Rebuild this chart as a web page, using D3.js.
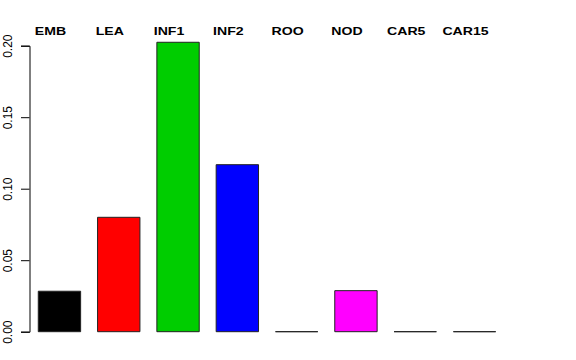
<!DOCTYPE html>
<html>
<head>
<meta charset="utf-8">
<script src="https://cdn.jsdelivr.net/npm/d3@7"></script>
<style>
  body { margin: 0; background: #fff; }
  text { font-family: "Liberation Sans", Arial, sans-serif; }
</style>
</head>
<body>
<svg></svg>
<script>
var width = 576;
var height = 360;

// data
var categories = ["EMB", "LEA", "INF1", "INF2", "ROO", "NOD", "CAR5", "CAR15"];
var values = [0.0283, 0.0800, 0.2024, 0.1168, 0, 0.0287, 0, 0];
var colors = ["#000000", "#ff0000", "#00cd00", "#0000ff", "#00ffff", "#ff00ff", "#ffff00", "#bebebe"];
var yTicks = [0, 0.05, 0.10, 0.15, 0.20];

var svg = d3.select("svg")
    .attr("width", width)
    .attr("height", height);

// R barplot with space = 0.4
var x = d3.scaleBand()
    .domain(categories)
    .range([29.8, 504.2])
    .paddingInner(0.2857)
    .paddingOuter(0.1429);

var y = d3.scaleLinear()
    .domain([0, 0.2])
    .range([331.7, 45.7]);

// bars as closed paths, so zero-height bars still show their outline
svg.append("g").selectAll("path")
    .data(categories)
    .enter().append("path")
    .attr("d", function(d, i) {
      var x0 = x(d), x1 = x(d) + x.bandwidth();
      var y0 = y(0), y1 = y(values[i]);
      return "M" + x0 + "," + y0 + "V" + y1 + "H" + x1 + "V" + y0 + "Z";
    })
    .attr("fill", function(d, i) { return colors[i]; })
    .attr("stroke", "#222")
    .attr("stroke-width", 1);

// y axis
var yAxis = svg.append("g")
    .attr("transform", "translate(29.5,0)")
    .call(d3.axisLeft(y).tickValues(yTicks).tickFormat(d3.format(".2f")).tickSizeOuter(0).tickSize(8.5));

yAxis.select(".domain").attr("stroke", "#000");
yAxis.selectAll(".tick line").attr("stroke", "#000");
yAxis.selectAll(".tick text")
    .attr("x", 0)
    .attr("y", 0)
    .attr("dy", null)
    .attr("text-anchor", "middle")
    .attr("transform", "translate(-18,0) rotate(-90)")
    .attr("font-size", 12)
    .attr("font-family", "Liberation Sans, Arial, sans-serif")
    .attr("fill", "#000");

// category labels above the plot
svg.append("g").selectAll("g")
    .data(categories)
    .enter().append("g")
    .attr("transform", function(d) { return "translate(" + (x(d) + x.bandwidth() / 2 - 9) + ",34.5)"; })
  .append("text")
    .attr("transform", "scale(1.33,1)")
    .attr("text-anchor", "middle")
    .attr("font-size", 10.6)
    .attr("font-weight", "bold")
    .attr("fill", "#000")
    .text(function(d) { return d; });
</script>
</body>
</html>
